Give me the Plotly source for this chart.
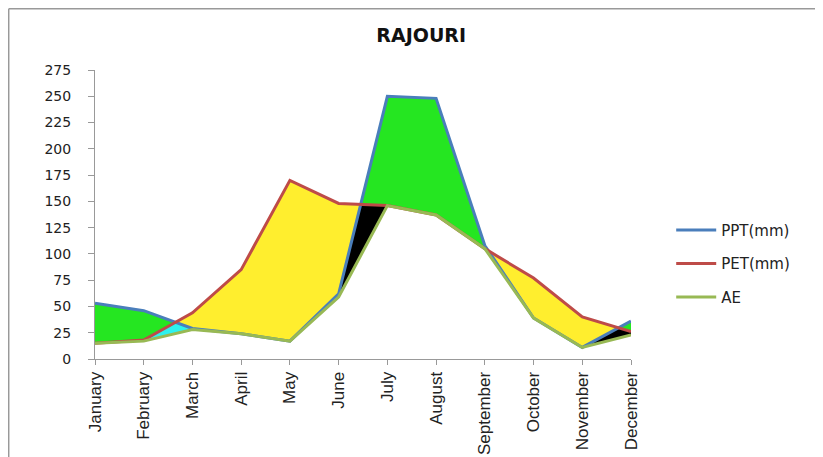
import plotly.graph_objects as go

#----------------------------------------------------------------------------
# monthly water balance for Rajouri
MONTHS = ['January', 'February', 'March', 'April', 'May', 'June',
          'July', 'August', 'September', 'October', 'November', 'December']
PPT = [53, 46, 29, 24, 17, 62, 250, 248, 108, 39, 11, 36]
PET = [15, 18, 44, 85, 170, 148, 146, 137, 105, 77, 40, 26]
AE = [15, 17, 28, 24, 17, 59, 146, 137, 105, 39, 11, 23]

# month spans where the soil moisture band is shaded (start index, colour)
BAND_SPANS = [(1, '#2EF2EE'), (5, '#000000'), (10, '#000000')]

Y_TICKS = list(range(0, 276, 25))

#----------------------------------------------------------------------------
def lower_envelope(a, b, i):

    ''' min(a, b) between month i and i+1, with the crossing point added '''

    xs = [i]
    ys = [min(a[i], b[i])]
    d0 = a[i] - b[i]
    d1 = a[i + 1] - b[i + 1]
    if d0 * d1 < 0:
        t = d0 / (d0 - d1)
        xs.append(i + t)
        ys.append(a[i] + t * (a[i + 1] - a[i]))
    xs.append(i + 1)
    ys.append(min(a[i + 1], b[i + 1]))
    return xs, ys


def band(top, bottom):

    ''' closed polygon between two series over the whole year '''

    xs = list(range(len(top))) + list(range(len(bottom)))[::-1]
    ys = list(top) + list(bottom)[::-1]
    return xs, ys


fig = go.Figure()

# surplus: between PPT and PET
bx, by = band(PPT, PET)
fig.add_trace(go.Scatter(x=bx, y=by, fill='toself', fillcolor='#25E621',
                         mode='none', showlegend=False, hoverinfo='skip'))

# deficit: between PET and AE
bx, by = band(PET, AE)
fig.add_trace(go.Scatter(x=bx, y=by, fill='toself', fillcolor='#FFEE2E',
                         mode='none', showlegend=False, hoverinfo='skip'))

# soil moisture band: between min(PPT, PET) and AE
for i, col in BAND_SPANS:
    ex, ey = lower_envelope(PPT, PET, i)
    xs = ex + [i + 1, i]
    ys = ey + [AE[i + 1], AE[i]]
    fig.add_trace(go.Scatter(x=xs, y=ys, fill='toself', fillcolor=col,
                             mode='none', showlegend=False, hoverinfo='skip'))

x = list(range(len(MONTHS)))
fig.add_trace(go.Scatter(x=x, y=PPT, name='PPT(mm)', mode='lines',
                         legendgroup='ppt',
                         line=dict(color='#4A7EBB', width=3)))
fig.add_trace(go.Scatter(x=x, y=PET, name='PET(mm)', mode='lines',
                         legendgroup='pet',
                         line=dict(color='#BE4B48', width=3)))
fig.add_trace(go.Scatter(x=x, y=AE, name='AE', mode='lines',
                         legendgroup='ae',
                         line=dict(color='#98B954', width=3)))

# the page body adds an 8px offset, so the figure is a bit smaller than the window
fig.update_layout(
    width=815, height=449,
    margin=dict(l=87, r=192, t=62, b=98),
    paper_bgcolor='white', plot_bgcolor='white',
    font=dict(family='DejaVu Sans', size=12, color='#222'),
    title=dict(text='<b>RAJOURI</b>', xref='container', x=0.507,
               xanchor='center', yref='container', y=0.94,
               yanchor='middle', font=dict(size=19, color='#111')),
    legend=dict(x=1.075, xanchor='left', y=0.33, yanchor='middle',
                traceorder='grouped', tracegroupgap=11,
                font=dict(size=15, color='#222'), itemwidth=40),
)

# automargin off: month labels are allowed to run past the bottom edge
fig.update_xaxes(range=[0, 11], tickvals=x, ticktext=MONTHS,
                 tickangle=-90, ticks='outside', ticklen=5,
                 tickcolor='#999', showline=True, linecolor='#999',
                 linewidth=1, showgrid=False, zeroline=False,
                 automargin=False,
                 tickfont=dict(family='Liberation Sans Narrow, Liberation Sans',
                               size=17, color='#222'))
fig.update_yaxes(range=[0, 275], tickvals=Y_TICKS, ticks='outside',
                 ticklen=6, tickcolor='#999', showline=True,
                 linecolor='#999', linewidth=1, showgrid=False,
                 zeroline=False, ticklabelstandoff=14, automargin=False,
                 tickfont=dict(size=14, color='#222'))

# thin frame along the top and left edge of the chart area
fig.add_shape(type='line', xref='paper', yref='paper',
              x0=-0.161, x1=1.36, y0=1.212, y1=1.212,
              line=dict(color='#999', width=1.5))
fig.add_shape(type='line', xref='paper', yref='paper',
              x0=-0.161, x1=-0.161, y0=1.212, y1=-0.34,
              line=dict(color='#999', width=1.5))

fig.write_html("out.html")
